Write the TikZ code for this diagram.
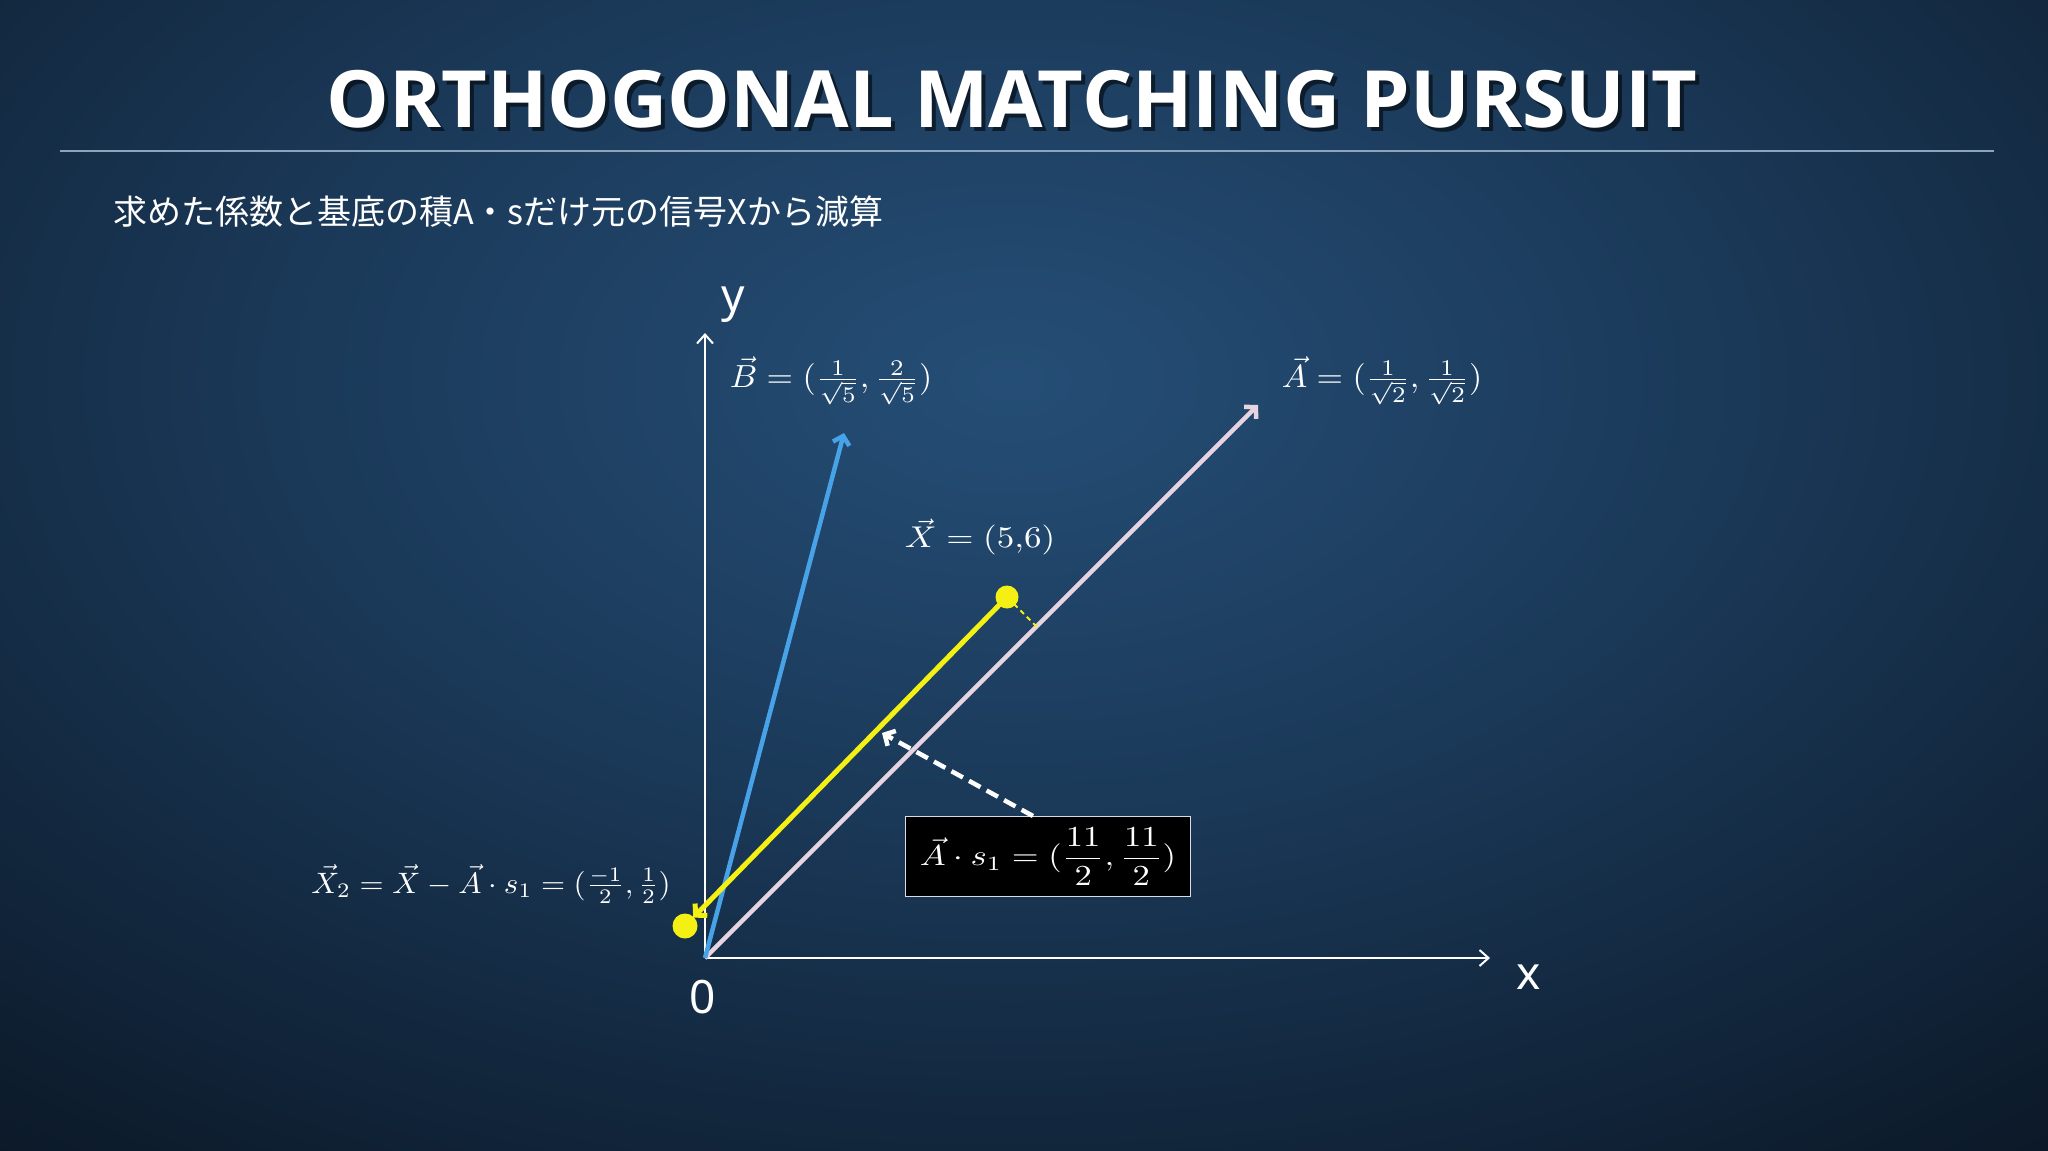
\documentclass[tikz,border=0pt]{standalone}
\usepackage{fontspec}
\usepackage{amsmath}
\usepackage{graphicx}
\usetikzlibrary{arrows.meta,calc}
\newfontfamily\titlefont{Open Sans}
\newfontfamily\cjk{Noto Sans CJK JP}
\newfontfamily\axfont{Noto Sans}
\definecolor{bgA}{RGB}{37,78,118}
\definecolor{bgB}{RGB}{27,58,90}
\definecolor{bgC}{RGB}{16,34,54}
\definecolor{bgD}{RGB}{7,16,26}
\definecolor{avec}{RGB}{232,212,224}
\definecolor{bvec}{RGB}{72,162,232}
\definecolor{xyel}{RGB}{245,240,20}
\definecolor{rulec}{RGB}{140,165,190}
\definecolor{boxedge}{RGB}{215,220,230}
\pgfdeclareradialshading{bgshade}{\pgfpoint{0bp}{0bp}}{color(0bp)=(bgA); color(9bp)=(bgB); color(18bp)=(bgC); color(25bp)=(bgD); color(50bp)=(bgD)}
\tikzset{
  axisline/.style={white, line width=2pt, -{Straight Barb[length=9pt,width=16pt]}},
  vecline/.style={line width=4.5pt, -{Straight Barb[length=8pt,width=17pt]}},
  ydot/.style={circle, fill=xyel, minimum size=23pt, inner sep=0pt},
  mathlbl/.style={text=white, inner sep=0pt},
  axlbl/.style={text=white, inner sep=0pt, font=\axfont\fontsize{46}{50}\selectfont},
}
\begin{document}
\begin{tikzpicture}[x=1pt,y=-1pt]
\useasboundingbox (0,0) rectangle (2048,1151);
\fill[bgD] (0,0) rectangle (2048,1151);
\begin{scope}
\clip (0,0) rectangle (2048,1151);
\shade[shading=bgshade] (1010,380) ellipse [x radius=1900pt, y radius=1150pt];
\end{scope}

% title
\node[anchor=base, text=black, opacity=0.55, inner sep=0pt, font=\titlefont\bfseries\fontsize{79}{80}\selectfont] (titlesh) at (1016,131) {ORTHOGONAL MATCHING PURSUIT};
\node[anchor=base, text=white, inner sep=0pt, font=\titlefont\bfseries\fontsize{79}{80}\selectfont] (title) at (1012,127) {ORTHOGONAL MATCHING PURSUIT};
\coordinate (rl) at (60,151);
\coordinate (rr) at (1994,151);
\draw[rulec, line width=1.2pt] (rl) -- (rr);

% subtitle
\node[anchor=west, text=white, inner sep=0pt, font=\cjk\fontsize{34}{40}\selectfont] (sub) at (113,212) {求めた係数と基底の積A・sだけ元の信号Xから減算};

% axes
\coordinate (O) at (705,958);
\coordinate (XE) at (1490,958);
\coordinate (YE) at (705,333);
\draw[axisline] (O) -- (XE);
\draw[axisline] (O) -- (YE);
\node[axlbl] (ylbl) at (733,305) {y};
\node[axlbl] (xlbl) at (1529,977) {x};
\node[axlbl] (zlbl) at (703,997) {0};

% vectors
\coordinate (AE) at (1258,405);
\coordinate (BE) at (844,433);
\draw[vecline, avec] (O) -- (AE);
\draw[vecline, bvec] (O) -- (BE);

% points
\coordinate (Xc) at (1007,597);
\coordinate (X2c) at (685,926);
\node[ydot, fill=none] (X2h) at (X2c) {};
\draw[vecline, xyel, line width=5pt] (Xc) -- (X2h);
\coordinate (P) at ($(O)!(Xc)!(AE)$);
\draw[xyel, line width=1.8pt, dash pattern=on 5pt off 4pt, shorten <=10pt] (Xc) -- (P);
\node[ydot] (Xp) at (Xc) {};
\node[ydot, minimum size=25pt] (X2p) at (X2c) {};

% box and dashed arrow
\node[draw=boxedge, fill=black, line width=1.6pt, minimum width=285pt, minimum height=80pt, inner sep=0pt, text=white] (box) at (1048,856.5) {\scalebox{3.45}[2.9]{$\vec{A}\cdot s_1 = (\dfrac{11}{2}, \dfrac{11}{2})$}};
\coordinate (bs) at (1033,816);
\coordinate (T) at (882,733);
\draw[white, line width=4.5pt, dash pattern=on 13pt off 7pt, -{Straight Barb[length=8pt,width=17pt]}] (bs) -- (T);

% labels
\node[mathlbl] (Blbl) at (831,381) {\scalebox{3.4}[3.2]{$\vec{B} = (\frac{1}{\sqrt{5}}, \frac{2}{\sqrt{5}})$}};
\node[mathlbl] (Albl) at (1382,381) {\scalebox{3.4}[3.2]{$\vec{A} = (\frac{1}{\sqrt{2}}, \frac{1}{\sqrt{2}})$}};
\node[mathlbl] (Xlbl) at (980,537) {\scalebox{3.5}[3.0]{$\vec{X} = (5{,}6)$}};
\node[mathlbl] (X2lbl) at (491,884) {\scalebox{3.1}[2.95]{$\vec{X}_2 = \vec{X} - \vec{A}\cdot s_1 = (\frac{-1}{2}, \frac{1}{2})$}};
\end{tikzpicture}
\end{document}
